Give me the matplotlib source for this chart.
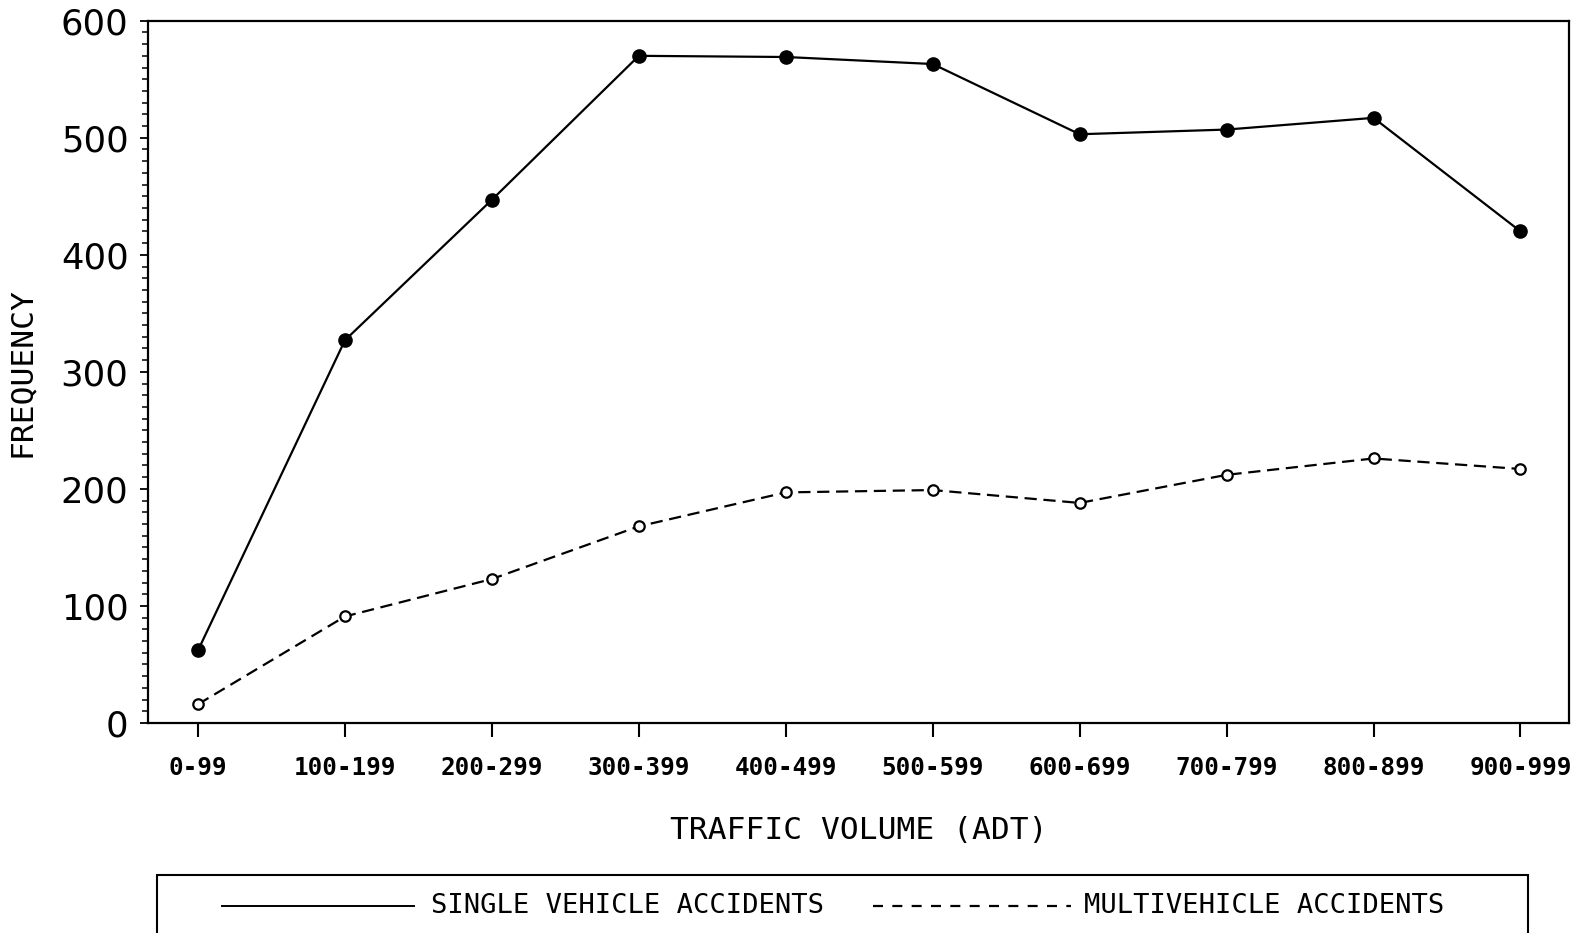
import matplotlib
matplotlib.use("Agg")
import matplotlib.pyplot as plt
from matplotlib.lines import Line2D
from matplotlib.patches import Rectangle
from matplotlib.ticker import MultipleLocator

volume_bins = ["0-99", "100-199", "200-299", "300-399", "400-499",
               "500-599", "600-699", "700-799", "800-899", "900-999"]
single_vehicle = [62, 327, 447, 570, 569, 563, 503, 507, 517, 420]
multi_vehicle = [16, 91, 123, 168, 197, 199, 188, 212, 226, 217]

mono = "DejaVu Sans Mono"

fig = plt.figure(figsize=(15.85, 9.33), dpi=100)
ax = fig.add_axes([0.0934, 0.2251, 0.8965, 0.7527])

x = range(len(volume_bins))
ax.plot(x, single_vehicle, color="black", lw=1.6, marker="o",
        markersize=9.5, markerfacecolor="black")
ax.plot(x, multi_vehicle, color="black", lw=1.6, dashes=(5.5, 3),
        marker="o", markersize=7.5, markerfacecolor="white",
        markeredgewidth=1.6)

ax.set_xlim(-0.34, 9.33)
ax.set_ylim(0, 600)
ax.set_xticks(list(x))
ax.set_xticklabels(volume_bins, fontfamily=mono, fontweight="bold",
                   fontsize=17.5)
ax.yaxis.set_major_locator(MultipleLocator(100))
ax.yaxis.set_minor_locator(MultipleLocator(10))
for lbl in ax.get_yticklabels():
    lbl.set_fontfamily("DejaVu Sans")
    lbl.set_fontsize(25.5)

ax.tick_params(axis="x", direction="out", length=10, width=1.5, pad=14)
ax.tick_params(axis="y", which="major", direction="out", length=6,
               width=1.3, pad=8)
ax.tick_params(axis="y", which="minor", direction="out", length=4,
               width=1.1)
for sp in ax.spines.values():
    sp.set_linewidth(1.6)

ax.set_xlabel("TRAFFIC VOLUME (ADT)", fontfamily=mono, fontsize=22.5,
              labelpad=26)
ax.set_ylabel("FREQUENCY", fontfamily=mono, fontsize=22.5, labelpad=18)

# legend box along the bottom edge, running off the page
fig.patches.append(Rectangle((0.099, -0.02), 0.865, 0.0822,
                             transform=fig.transFigure, fill=False,
                             edgecolor="black", lw=1.5))
ty = 0.0289
fig.lines.append(Line2D([0.140, 0.261], [ty, ty], transform=fig.transFigure,
                        color="black", lw=1.4))
fig.text(0.272, ty, "SINGLE VEHICLE ACCIDENTS", fontfamily=mono,
         fontsize=19.5, va="center", ha="left")
fig.lines.append(Line2D([0.551, 0.676], [ty, ty], transform=fig.transFigure,
                        color="black", lw=1.6, dashes=(4.5, 4.2)))
fig.text(0.684, ty, "MULTIVEHICLE ACCIDENTS", fontfamily=mono,
         fontsize=19.5, va="center", ha="left")

fig.savefig("out.png", dpi=100)
